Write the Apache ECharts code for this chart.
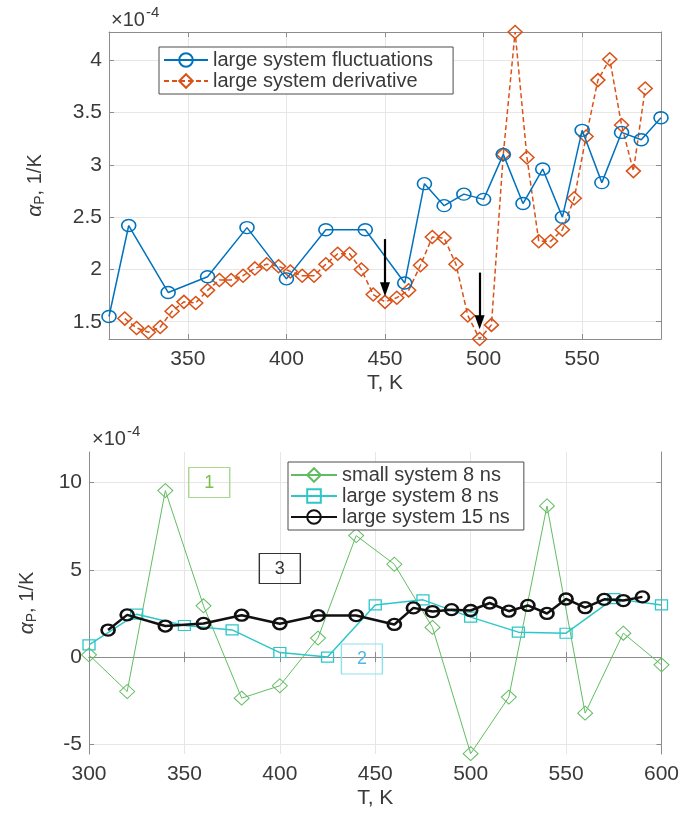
<!DOCTYPE html>
<html>
<head>
<meta charset="utf-8">
<script src="https://cdn.jsdelivr.net/npm/echarts@6/dist/echarts.min.js"></script>
<style>html,body{margin:0;padding:0;background:#fff}#c{width:682px;height:814px}</style>
</head>
<body>
<div id="c"></div>
<script>
// ---------- data (top panel) ----------
const fluctT = [310,320,340,360,380,400,420,440,460,470,480,490,500,510,520,530,540,550,560,570,580,590];
const fluctVals = [1.55,2.42,1.78,1.93,2.40,1.91,2.38,2.38,1.87,2.82,2.61,2.72,2.67,3.10,2.63,2.96,2.50,3.33,2.83,3.31,3.24,3.45];
const derivT = [318,324,330,336,342,348,354,360,366,372,378,384,390,396,402,408,414,420,426,432,438,444,450,456,462,468,474,480,486,492,498,504,510,516,522,528,534,540,546,552,558,564,570,576,582];
const derivVals = [1.53,1.44,1.40,1.45,1.60,1.69,1.68,1.80,1.90,1.90,1.94,2.01,2.05,2.03,1.98,1.94,1.94,2.05,2.15,2.15,2.00,1.76,1.69,1.73,1.80,2.04,2.31,2.30,2.05,1.56,1.335,1.47,3.10,4.27,3.07,2.27,2.27,2.38,2.68,3.27,3.81,4.01,3.38,2.94,3.73];
const topXTicks = [350,400,450,500,550];
const topYTicks = [1.5,2,2.5,3,3.5,4];
// arrows: [T, start value, tip value]
const arrows = [[450, 2.29, 1.81], [498, 1.97, 1.495]];

// ---------- data (bottom panel) ----------
const smallT = [300,320,340,360,380,400,420,440,460,480,500,520,540,560,580,600];
const smallVals = [0.13,-1.97,9.54,2.94,-2.35,-1.64,1.09,6.96,5.32,1.70,-5.53,-2.29,8.66,-3.21,1.37,-0.44];
const large8T = [300,325,350,375,400,425,450,475,500,525,550,575,600];
const large8Vals = [0.70,2.46,1.81,1.56,0.26,0.00,2.99,3.28,2.29,1.43,1.37,3.35,2.99];
const large15T = fluctT;
const large15Vals = fluctVals;
const botXTicks = [300,350,400,450,500,550,600];
const botYTicks = [-5,0,5,10];
// annotation boxes: [label, T, value]
const notes = [['1', 363, 10.0], ['3', 400, 5.07], ['2', 443, -0.11]];

const FONT = 'Liberation Sans, Arial, Helvetica, sans-serif';
const TXT = '#3a3a3a';
const AX = '#8c8c8c';
const GRIDC = '#e6e6e6';
const pair = (xs, ys) => xs.map((x, i) => [x, ys[i]]);

function xAxes(grid, min, max, ticks) {
  return [
    {
      gridIndex: grid, type: 'value', min, max, position: 'bottom',
      axisLine: {show: true, lineStyle: {color: AX, width: 1}},
      axisTick: {show: true, inside: true, length: 5, customValues: ticks, lineStyle: {color: AX}},
      axisLabel: {show: true, customValues: ticks, fontSize: 21, fontFamily: FONT, color: TXT, margin: 10},
      splitLine: {show: true, lineStyle: {color: GRIDC, width: 1}},
      name: 'T, K', nameLocation: 'middle', nameGap: 34,
      nameTextStyle: {fontSize: 21, fontFamily: FONT, color: TXT}
    },
    {
      gridIndex: grid, type: 'value', min, max, position: 'top',
      axisLine: {show: true, lineStyle: {color: AX, width: 1}},
      axisTick: {show: true, inside: true, length: 5, customValues: ticks, lineStyle: {color: AX}},
      axisLabel: {show: false}, splitLine: {show: false}
    }
  ];
}
function yAxes(grid, min, max, ticks, gap) {
  return [
    {
      gridIndex: grid, type: 'value', min, max, position: 'left',
      axisLine: {show: true, lineStyle: {color: AX, width: 1}},
      axisTick: {show: true, inside: true, length: 5, customValues: ticks, lineStyle: {color: AX}},
      axisLabel: {show: true, customValues: ticks, fontSize: 21, fontFamily: FONT, color: TXT, margin: 7},
      splitLine: {show: true, lineStyle: {color: GRIDC, width: 1}},
      name: '{a|α}{s|P}{b|, 1/K}', nameLocation: 'middle', nameGap: gap,
      nameTextStyle: {
        color: TXT, fontFamily: FONT, fontSize: 20,
        rich: {
          a: {fontSize: 21, fontStyle: 'italic', fontFamily: FONT, color: TXT},
          s: {fontSize: 14, fontFamily: FONT, color: TXT, padding: [10, 0, 0, 0]},
          b: {fontSize: 20, fontFamily: FONT, color: TXT}
        }
      }
    },
    {
      gridIndex: grid, type: 'value', min, max, position: 'right',
      axisLine: {show: true, lineStyle: {color: AX, width: 1}},
      axisTick: {show: true, inside: true, length: 5, customValues: ticks, lineStyle: {color: AX}},
      axisLabel: {show: false}, splitLine: {show: false}
    }
  ];
}

const BLUE = '#0072BD', ORANGE = '#D95319', GREEN = '#62bd62', CYAN = '#2ec7c9', BLACK = '#111111';
const clear = 'rgba(255,255,255,0)';

const option = {
  animation: false,
  backgroundColor: '#ffffff',
  grid: [
    {left: 109, top: 32, width: 552, height: 307},
    {left: 89, top: 452, width: 573, height: 302}
  ],
  xAxis: [].concat(xAxes(0, 310, 590, topXTicks), xAxes(1, 300, 600, botXTicks)),
  yAxis: [].concat(yAxes(0, 1.335, 4.27, topYTicks, 62), yAxes(1, -5.55, 11.75, botYTicks, 50)),
  legend: [
    {
      orient: 'vertical', left: 159, top: 47, padding: [3, 20, 3, 4], itemGap: 1,
      itemWidth: 44, itemHeight: 17,
      backgroundColor: '#fff', borderColor: '#4d4d4d', borderWidth: 1,
      textStyle: {fontSize: 20, fontFamily: FONT, color: TXT, lineHeight: 20},
      data: ['large system fluctuations', 'large system derivative']
    },
    {
      orient: 'vertical', left: 288, top: 462, padding: [3, 14, 3, 2], itemGap: 1,
      itemWidth: 46, itemHeight: 17,
      backgroundColor: '#fff', borderColor: '#4d4d4d', borderWidth: 1,
      textStyle: {fontSize: 20, fontFamily: FONT, color: TXT, lineHeight: 20},
      data: ['small system 8 ns', 'large system 8 ns', 'large system 15 ns']
    }
  ],
  graphic: [
    {type: 'text', left: 111, top: 10, style: {text: '×10', fontSize: 20, fontFamily: FONT, fill: TXT}},
    {type: 'text', left: 146, top: 5, style: {text: '-4', fontSize: 15, fontFamily: FONT, fill: TXT}},
    {type: 'text', left: 92, top: 429, style: {text: '×10', fontSize: 20, fontFamily: FONT, fill: TXT}},
    {type: 'text', left: 127, top: 424, style: {text: '-4', fontSize: 15, fontFamily: FONT, fill: TXT}}
  ],
  series: [
    {
      name: 'large system fluctuations', type: 'line', xAxisIndex: 0, yAxisIndex: 0,
      data: pair(fluctT, fluctVals), symbol: 'circle', symbolSize: [14, 12],
      lineStyle: {color: BLUE, width: 1.5},
      itemStyle: {color: clear, borderColor: BLUE, borderWidth: 1.5}, z: 3
    },
    {
      name: 'large system derivative', type: 'line', xAxisIndex: 0, yAxisIndex: 0,
      data: pair(derivT, derivVals), symbol: 'diamond', symbolSize: [14, 13],
      lineStyle: {color: ORANGE, width: 1.5, type: [5, 3]},
      itemStyle: {color: clear, borderColor: ORANGE, borderWidth: 1.5}, z: 2,
      markLine: {
        silent: true, symbol: ['none', 'triangle'], symbolSize: [10, 14],
        label: {show: false},
        lineStyle: {color: '#000', width: 2.2, type: 'solid'},
        data: arrows.map(a => [{coord: [a[0], a[1]]}, {coord: [a[0], a[2]]}])
      }
    },
    {
      name: 'small system 8 ns', type: 'line', xAxisIndex: 2, yAxisIndex: 2,
      data: pair(smallT, smallVals), symbol: 'diamond', symbolSize: [15, 14],
      lineStyle: {color: GREEN, width: 1},
      itemStyle: {color: clear, borderColor: GREEN, borderWidth: 1}, z: 2
    },
    {
      name: 'large system 8 ns', type: 'line', xAxisIndex: 2, yAxisIndex: 2,
      data: pair(large8T, large8Vals), symbol: 'rect', symbolSize: [12, 10],
      lineStyle: {color: CYAN, width: 1.5},
      itemStyle: {color: clear, borderColor: CYAN, borderWidth: 1.2}, z: 3
    },
    {
      name: 'large system 15 ns', type: 'line', xAxisIndex: 2, yAxisIndex: 2,
      data: pair(large15T, large15Vals), symbol: 'circle', symbolSize: [13, 11],
      lineStyle: {color: BLACK, width: 2.5},
      itemStyle: {color: clear, borderColor: BLACK, borderWidth: 2.5}, z: 4,
      markPoint: {
        silent: true, symbol: 'rect', symbolSize: [41, 30],
        data: notes.map((n) => {
          const cols = {'1': ['#a9d88f', '#7cc04a'], '3': ['#333333', '#333333'], '2': ['#8fe1ec', '#4fb8e8']};
          const c = cols[n[0]];
          return {
            coord: [n[1], n[2]], value: n[0],
            itemStyle: {color: 'rgba(255,255,255,0)', borderColor: c[0], borderWidth: 1.2},
            label: {show: true, position: 'inside', formatter: n[0], color: c[1], fontSize: 18, fontFamily: FONT}
          };
        })
      }
    }
  ]
};

const chart = echarts.init(document.getElementById('c'), null, {renderer: 'canvas'});
chart.setOption(option);
</script>
</body>
</html>
